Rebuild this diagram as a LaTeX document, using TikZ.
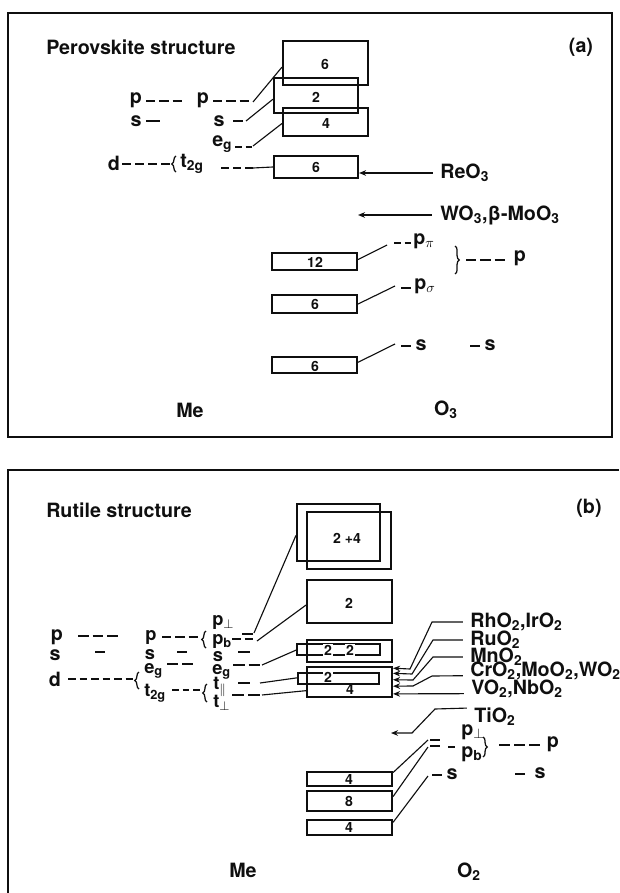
\documentclass[tikz,border=0pt]{standalone}
\usepackage{fontspec}
\setmainfont{TeX Gyre Heros}
\usepackage{tikz}
\usetikzlibrary{arrows.meta,calc,fit,decorations.pathreplacing}
\definecolor{inkline}{RGB}{15,15,15}
\newcommand{\lbl}[2]{#1\textsubscript{#2}}
\newcommand{\lvlbox}[5]{\node[lvlbox,fit={(#2,#3)(#4,#5)}] (#1) {};}
% row of #4 level dashes from x=#1 to x=#2 at height #3
\newcommand{\dashrow}[4]{%
  \pgfmathsetmacro\dlen{(#2-#1-(#4-1)*4)/#4}%
  \foreach \k in {1,...,#4}{\draw[lvl] ({#1+(\k-1)*(\dlen+4)},#3) -- ++(\dlen,0);}}
\tikzset{
  lvlbox/.style={draw=inkline,line width=1.5pt,inner sep=0pt},
  bxnum/.style={font=\bfseries\fontsize{10}{10}\selectfont,inner sep=0.6pt,text=inkline},
  orb/.style={font=\bfseries\fontsize{14}{14}\selectfont,inner sep=0pt,text=inkline},
  orbs/.style={font=\bfseries\fontsize{13}{13}\selectfont,inner sep=0pt,text=inkline},
  ttl/.style={orb},
  lvl/.style={draw=inkline,line width=1.3pt},
  con/.style={draw=inkline,line width=0.8pt},
  arr/.style={con,-{Stealth[length=5pt,width=4pt]}},
  frame/.style={draw=inkline,line width=1pt},
  brc/.style={draw=inkline,decorate,decoration={brace,amplitude=3pt},line width=0.9pt},
}

\begin{document}
\begin{tikzpicture}[x=0.025cm,y=-0.025cm]
  \useasboundingbox (0,0) rectangle (619,893);
  % ---- Panel (a): perovskite
  \draw[frame] (8,13) rectangle (612,437);
  \node[ttl,anchor=west] (ttla) at (46,47) {Perovskite structure};
  \node[ttl] (taga) at (581,47) {(a)};
  \lvlbox{a6top}{283}{41}{368}{85}
  \lvlbox{a2}{274}{78}{358}{113}
  \lvlbox{a4}{283}{108}{368}{136}
  \lvlbox{at}{274}{156}{358}{178}
  \lvlbox{api}{272}{253}{357}{270}
  \lvlbox{asg}{272}{295}{357}{313}
  \lvlbox{as}{272}{357}{357}{373}
  \node[bxnum] (na6top) at (325,64) {6};
  \node[bxnum] (na2) at (316,97) {2};
  \node[bxnum] (na4) at (326,124) {4};
  \node[bxnum] (nat) at (316,167) {6};
  \node[bxnum] (napi) at (315,262) {12};
  \node[bxnum] (nasg) at (315,304) {6};
  \node[bxnum] (nas) at (315,366) {6};
  % metal side
  \node[orb] (pM) at (136,100) {p};
  \dashrow{146}{182}{101}{3}
  \node[orb] (pMO) at (203,100) {p};
  \dashrow{213}{249}{101}{3}
  \coordinate (pMe) at (253,102);
  \draw[con] (pMe) -- ($(a6top.north west)!.59!(a6top.south west)$);
  \node[orb] (sM) at (136,121) {s};
  \draw[lvl] (146,121) -- (160,121);
  \node[orb] (sMO) at (219,121) {s};
  \draw[lvl] (233,121) -- (243,121);
  \coordinate (sMe) at (246,121);
  \draw[con] (sMe) -- ($(a2.north west)!.6!(a2.south west)$);
  \node[orb,anchor=west] (egA) at (212,144) {\lbl{e}{g}};
  \dashrow{235}{252}{147}{2}
  \coordinate (egAe) at (253,146);
  \draw[con] (egAe) -- ($(a4.north west)!.55!(a4.south west)$);
  \node[orb] (dA) at (114,163) {d};
  \dashrow{122}{170}{164}{4}
  \draw[brc] (176,172) -- (176,156);
  \node[orb,anchor=west] (t2gA) at (180,164) {\lbl{t}{2g}};
  \dashrow{221}{253}{168}{3}
  \coordinate (t2gAe) at (253,168);
  \draw[con] (t2gAe) -- (at.west);
  % compounds
  \node[orb,anchor=west] (reo) at (440,173) {ReO\textsubscript{3}};
  \draw[arr,shorten <=5pt] (reo.west) -- (reo.west -| at.east);
  \node[orb,anchor=west] (woa) at (440,215) {WO\textsubscript{3},β-MoO\textsubscript{3}};
  \coordinate (wotip) at (358,215);
  \draw[arr,shorten <=6pt] (woa.west) -- (wotip);
  % oxygen side
  \dashrow{394}{411}{243}{2}
  \node[orb,anchor=west] (ppi) at (413,241) {\lbl{p}{$\pi$}};
  \coordinate (ppie) at (387,245);
  \draw[con] ($(api.north east)!.4!(api.south east)$) -- (ppie);
  \draw[brc] (455,246) -- (455,274);
  \dashrow{466}{505}{260}{3}
  \node[orb] (pO) at (520,258) {p};
  \draw[lvl] (401,288) -- (411,288);
  \node[orb,anchor=west] (psg) at (414,286) {\lbl{p}{$\sigma$}};
  \coordinate (psge) at (395,286);
  \draw[con] ($(asg.north east)!.5!(asg.south east)$) -- (psge);
  \draw[lvl] (401,346) -- (411,346);
  \node[orb] (sO) at (421,345) {s};
  \coordinate (sOe) at (395,344);
  \draw[con] ($(as.north east)!.35!(as.south east)$) -- (sOe);
  \draw[lvl] (470,346) -- (480,346);
  \node[orb] (sOO) at (490,345) {s};
  \node[orb] (mea) at (190,410) {Me};
  \node[orb] (oxa) at (446,410) {O\textsubscript{3}};

  % ---- Panel (b): rutile
  \draw[frame] (619,470) -- (8,470) -- (8,893);
  \node[ttl,anchor=west] (ttlb) at (46,510) {Rutile structure};
  \node[ttl] (tagb) at (589,508) {(b)};
  \lvlbox{bfB}{297}{504}{380}{561}
  \lvlbox{bf}{307}{512}{391}{569}
  \lvlbox{bp}{307}{580}{392}{623}
  \lvlbox{bs}{307}{640}{392}{662}
  \lvlbox{bsi}{297}{644}{380}{655}
  \lvlbox{bd}{307}{667}{392}{697}
  \lvlbox{bdi}{298}{673}{379}{684}
  \lvlbox{bpp}{307}{772}{392}{786}
  \lvlbox{bpb}{307}{791}{392}{811}
  \lvlbox{bsO}{307}{820}{392}{835}
  \node[bxnum] (nbf) at (347,538) {2 +4};
  \node[bxnum] (nbp) at (349,603) {2};
  \node[bxnum,fill=white] (nbs1) at (328,650) {2};
  \node[bxnum,fill=white] (nbs2) at (350,650) {2};
  \node[bxnum,fill=white] (nbd1) at (328,677) {2};
  \node[bxnum] (nbd2) at (350,690) {4};
  \node[bxnum] (nbpp) at (349,780) {4};
  \node[bxnum] (nbpb) at (349,801) {8};
  \node[bxnum] (nbsO) at (349,828) {4};
  % free atom
  \node[orb] (pM1) at (57,637) {p};
  \dashrow{78}{118}{636}{3}
  \node[orb] (sM1) at (55,655) {s};
  \draw[lvl] (95,652) -- (105,652);
  \node[orb] (dM1) at (55,679) {d};
  \dashrow{68}{133}{679}{6}
  \draw[brc] (139,689) -- (139,672);
  % octahedral field
  \node[orbs] (pM2) at (151,637) {p};
  \dashrow{162}{198}{637}{3}
  \draw[brc] (206,648) -- (206,631);
  \node[orbs] (sM2) at (150,655) {s};
  \draw[lvl] (177,652) -- (187,652);
  \node[orbs,anchor=west] (egM2) at (144,671) {\lbl{e}{g}};
  \dashrow{167}{193}{664}{2}
  \node[orbs,anchor=west] (t2gM2) at (144,693) {\lbl{t}{2g}};
  \dashrow{172}{200}{690}{3}
  \draw[brc] (207,702) -- (207,684);
  % rutile splitting
  \node[orbs,anchor=west] (pperp) at (212,622) {\lbl{p}{$\perp$}};
  \draw[lvl] (242,634) -- (253,634);
  \node[orbs,anchor=west] (pb) at (212,641) {\lbl{p}{b}};
  \dashrow{232}{253}{639}{2}
  \node[orbs] (sM3) at (218,657) {s};
  \draw[lvl] (238,652) -- (250,652);
  \node[orbs,anchor=west] (egM3) at (212,672) {\lbl{e}{g}};
  \dashrow{233}{260}{665}{2}
  \node[orbs,anchor=west] (tpar) at (213,687) {\lbl{t}{$\parallel$}};
  \draw[lvl] (238,683) -- (250,683);
  \node[orbs,anchor=west] (tperp) at (213,703) {\lbl{t}{$\perp$}};
  \dashrow{232}{260}{695}{2}
  \coordinate (pperpe) at (254,633);
  \coordinate (pbe) at (257,641);
  \coordinate (egM3e) at (262,665);
  \coordinate (tpare) at (260,683);
  \coordinate (tperpe) at (262,695);
  \draw[con] (pperpe) -- ($(bfB.north west)!.55!(bfB.south west)$);
  \draw[con] (pbe) -- ($(bp.north west)!.58!(bp.south west)$);
  \draw[con] (egM3e) -- ($(bsi.north west)!.55!(bsi.south west)$);
  \draw[con] (tpare) -- ($(bdi.north west)!.45!(bdi.south west)$);
  \draw[con] (tperpe) -- ($(bd.north west)!.77!(bd.south west)$);
  % compounds
  \node[orb,anchor=west] (rh) at (470,622) {RhO\textsubscript{2},IrO\textsubscript{2}};
  \node[orb,anchor=west] (ru) at (470,640) {RuO\textsubscript{2}};
  \node[orb,anchor=west] (mn) at (470,657) {MnO\textsubscript{2}};
  \node[orb,anchor=west] (cr) at (470,671) {CrO\textsubscript{2},MoO\textsubscript{2},WO\textsubscript{2}};
  \node[orb,anchor=west] (vo) at (471,689) {VO\textsubscript{2},NbO\textsubscript{2}};
  \node[orb,anchor=west] (ti) at (474,717) {TiO\textsubscript{2}};
  \draw[arr,shorten <=5pt] (rh.west) -- (432,622) -- (410,669) -- ($(bd.north east)!.07!(bd.south east)$);
  \draw[arr,shorten <=5pt] (ru.west) -- (433,640) -- (412,674) -- ($(bd.north east)!.23!(bd.south east)$);
  \draw[arr,shorten <=5pt] (mn.west) -- (433,657) -- (413,680) -- ($(bd.north east)!.43!(bd.south east)$);
  \draw[arr,shorten <=5pt] ($(cr.west)!.5!(cr.south west)$) -- (432,676) -- (413,686) -- ($(bd.north east)!.63!(bd.south east)$);
  \draw[arr,shorten <=5pt] ($(vo.west)!.5!(vo.south west)$) -- ($(bd.north east)!.87!(bd.south east)$);
  \coordinate (titip) at (391,733);
  \draw[arr,shorten <=5pt] (ti.north west) -- (435,709) -- (412,733) -- (titip);
  % oxygen side
  \draw[lvl] (430,740) -- (440,740);
  \draw[lvl] (430,746) -- (440,746);
  \draw[lvl] (448,747) -- (455,747);
  \node[orb,anchor=west] (pperpO) at (461,732) {\lbl{p}{$\perp$}};
  \node[orb,anchor=west] (pbO) at (461,754) {\lbl{p}{b}};
  \draw[brc] (483,737) -- (483,757);
  \dashrow{499}{540}{745}{3}
  \node[orb] (pO2) at (553,744) {p};
  \draw[lvl] (432,775) -- (442,775);
  \node[orb] (sO3) at (452,774) {s};
  \draw[lvl] (515,774) -- (525,774);
  \node[orb] (sO4) at (540,773) {s};
  \coordinate (pperpOe) at (428,740);
  \coordinate (pbOe) at (428,747);
  \coordinate (sO3e) at (428,776);
  \draw[con] ($(bpp.north east)!.1!(bpp.south east)$) -- (pperpOe);
  \draw[con] ($(bpb.north east)!.3!(bpb.south east)$) -- (pbOe);
  \draw[con] ($(bsO.north east)!.2!(bsO.south east)$) -- (sO3e);
  \node[orb] (meb) at (243,870) {Me};
  \node[orb] (oxb) at (469,872) {O\textsubscript{2}};
\end{tikzpicture}
\end{document}
